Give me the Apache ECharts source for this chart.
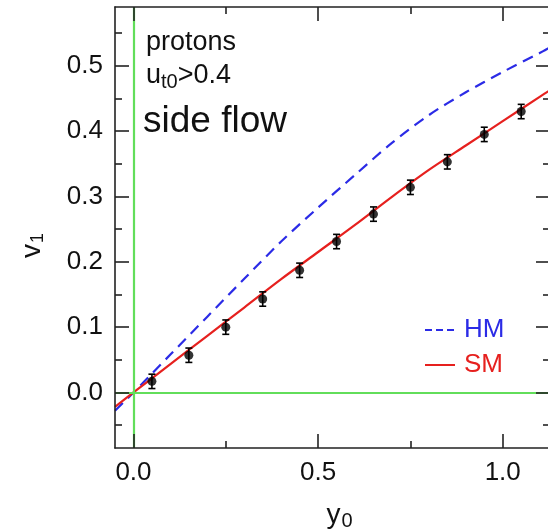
<!DOCTYPE html>
<html><head><meta charset="utf-8">
<script src="https://cdn.jsdelivr.net/npm/echarts@6/dist/echarts.min.js"></script>
<style>html,body{margin:0;padding:0;background:#fff}#c{width:548px;height:532px}</style>
</head><body><div id="c"></div>
<script>
// ---- data ----
const xTicksMajor = [0.0, 0.5, 1.0];
const xTicksMinor = [0.25, 0.75];
const yTicksMajor = [0.0, 0.1, 0.2, 0.3, 0.4, 0.5];
const yTicksMinor = [-0.05, 0.05, 0.15, 0.25, 0.35, 0.45, 0.55];

const dataX   = [0.05, 0.15, 0.25, 0.35, 0.45, 0.55, 0.65, 0.75, 0.85, 0.95, 1.05];
const dataV1  = [0.017, 0.057, 0.100, 0.143, 0.187, 0.231, 0.273, 0.314, 0.353, 0.395, 0.430];
const dataErr = [0.011, 0.011, 0.011, 0.011, 0.011, 0.011, 0.011, 0.011, 0.011, 0.011, 0.011];

const curveX = [-0.05, 0.0, 0.1, 0.2, 0.3, 0.4, 0.5, 0.6, 0.7, 0.8, 0.9, 1.0, 1.1, 1.128];
const hmV1   = [-0.028, 0.0, 0.058, 0.116, 0.174, 0.231, 0.283, 0.333, 0.382, 0.4245, 0.4595, 0.4905, 0.5195, 0.528];
const smV1   = [-0.022, 0.0, 0.0434, 0.0868, 0.130, 0.1735, 0.215, 0.2565, 0.2995, 0.3407, 0.378, 0.4152, 0.4525, 0.4627];

const seriesNames = ['HM', 'SM'];
const xName = 'y';
const xNameSub = '0';
const yName = 'v';
const yNameSub = '1';

// ---- styles ----
const FONT = 'Liberation Sans, Arial, Helvetica, sans-serif';
const BLUE = '#2b2be6';
const RED = '#e6201e';
const GREEN = '#62de5a';
const AX = '#222';
const XMIN = -0.05, XMAX = 1.128, YMIN = -0.085, YMAX = 0.59;
const gridRect = {left: 115, top: 7, right: -2, bottom: 84, outerBoundsMode: 'none', containLabel: false};

function xAx(gridIndex, pos, ticks, len, labels, line, extra) {
  return Object.assign({
    type: 'value', gridIndex, position: pos, min: XMIN, max: XMAX,
    axisLine: {show: line, onZero: false, lineStyle: {color: AX, width: 1.6}},
    axisTick: {show: true, inside: true, length: len, customValues: ticks, lineStyle: {color: AX, width: 1.6}},
    axisLabel: labels ? {show: true, customValues: ticks, formatter: v => v.toFixed(1), fontSize: 26, fontFamily: FONT, color: '#111', margin: 12}
                      : {show: false},
    splitLine: {show: false}, z: 10
  }, extra || {});
}
function yAx(gridIndex, pos, ticks, len, labels, line, extra) {
  return Object.assign({
    type: 'value', gridIndex, position: pos, min: YMIN, max: YMAX,
    axisLine: {show: line, onZero: false, lineStyle: {color: AX, width: 1.6}},
    axisTick: {show: true, inside: true, length: len, customValues: ticks, lineStyle: {color: AX, width: 1.6}},
    axisLabel: labels ? {show: true, customValues: ticks, formatter: v => v.toFixed(1), fontSize: 26, fontFamily: FONT, color: '#111', margin: 12}
                      : {show: false},
    splitLine: {show: false}, z: 10
  }, extra || {});
}

const chart = echarts.init(document.getElementById('c'), null, {renderer: 'canvas'});

const option = {
  animation: false,
  backgroundColor: '#fff',
  textStyle: {fontFamily: FONT},
  grid: [Object.assign({}, gridRect), Object.assign({}, gridRect)],
  xAxis: [
    xAx(0, 'bottom', xTicksMajor, 14, true, true, {
      name: '{a|' + xName + '}{b|' + xNameSub + '}', nameLocation: 'middle', nameGap: 51,
      nameTextStyle: {fontFamily: FONT, color: '#111', padding: [0, 0, 0, 14], rich: {
        a: {fontSize: 28, fontFamily: FONT, color: '#111'},
        b: {fontSize: 20, fontFamily: FONT, color: '#111', padding: [12, 0, 0, 1]}
      }}
    }),
    xAx(0, 'top', xTicksMajor, 14, false, true),
    xAx(1, 'bottom', xTicksMinor, 7, false, false),
    xAx(1, 'top', xTicksMinor, 7, false, false)
  ],
  yAxis: [
    yAx(0, 'left', yTicksMajor, 14, true, true, {
      name: '{a|' + yName + '}{b|' + yNameSub + '}', nameLocation: 'middle', nameGap: 68, nameRotate: 90,
      nameTextStyle: {fontFamily: FONT, color: '#111', padding: [0, 36, 0, 0], rich: {
        a: {fontSize: 28, fontFamily: FONT, color: '#111'},
        b: {fontSize: 18, fontFamily: FONT, color: '#111', padding: [12, 0, 0, 1]}
      }}
    }),
    yAx(0, 'right', yTicksMajor, 14, false, true),
    yAx(1, 'left', yTicksMinor, 7, false, false),
    yAx(1, 'right', yTicksMinor, 7, false, false)
  ],
  legend: {
    orient: 'vertical', left: 424, top: 317, padding: 0, itemWidth: 30, itemHeight: 14, itemGap: 9,
    selectedMode: false,
    itemStyle: {opacity: 0},
    textStyle: {fontSize: 26, fontFamily: FONT, padding: [0, 0, 0, 4]},
    data: [
      {name: seriesNames[0], textStyle: {color: BLUE}, lineStyle: {type: [7, 4]}, itemStyle: {opacity: 0}},
      {name: seriesNames[1], textStyle: {color: RED}, itemStyle: {opacity: 0}}
    ]
  },
  graphic: [
    {type: 'text', left: 146, top: 29, silent: true,
     style: {text: 'protons', font: '27px ' + FONT, fill: '#111'}},
    {type: 'text', left: 146, top: 62, silent: true,
     style: {text: '{a|u}{b|t0}{a|>0.4}', fill: '#111', rich: {
       a: {fontSize: 27, fontFamily: FONT, fill: '#111'},
       b: {fontSize: 20, fontFamily: FONT, fill: '#111', padding: [14, 0, 0, 0]}
     }}},
    {type: 'text', left: 143, top: 103, silent: true,
     style: {text: 'side flow', font: '37px ' + FONT, fill: '#111'}}
  ],
  series: [
    {
      name: 'axes0', type: 'line', xAxisIndex: 0, yAxisIndex: 0, data: [], z: 1, silent: true,
      markLine: {
        silent: true, symbol: ['none', 'none'], label: {show: false},
        lineStyle: {color: GREEN, width: 2.2, type: 'solid'},
        emphasis: {disabled: true},
        data: [{xAxis: 0}, {yAxis: 0}]
      }
    },
    {
      name: seriesNames[0], type: 'line', xAxisIndex: 0, yAxisIndex: 0,
      data: curveX.map((x, i) => [x, hmV1[i]]),
      smooth: 0.3, symbol: 'none', z: 3,
      lineStyle: {color: BLUE, width: 2.2, type: [11, 7]}, itemStyle: {color: BLUE}
    },
    {
      name: seriesNames[1], type: 'line', xAxisIndex: 0, yAxisIndex: 0,
      data: curveX.map((x, i) => [x, smV1[i]]),
      smooth: 0.3, symbol: 'none', z: 3,
      lineStyle: {color: RED, width: 2.2, type: 'solid'}, itemStyle: {color: RED}
    },
    {
      name: 'err', type: 'custom', xAxisIndex: 0, yAxisIndex: 0, z: 4, silent: true,
      data: dataX.map((x, i) => [x, dataV1[i] - dataErr[i], dataV1[i] + dataErr[i]]),
      renderItem: function (params, api) {
        const lo = api.coord([api.value(0), api.value(1)]);
        const hi = api.coord([api.value(0), api.value(2)]);
        const w = 3.5;
        const st = {stroke: '#000', lineWidth: 1.6};
        return {type: 'group', children: [
          {type: 'line', shape: {x1: lo[0], y1: lo[1], x2: hi[0], y2: hi[1]}, style: st},
          {type: 'line', shape: {x1: lo[0] - w, y1: lo[1], x2: lo[0] + w, y2: lo[1]}, style: st},
          {type: 'line', shape: {x1: hi[0] - w, y1: hi[1], x2: hi[0] + w, y2: hi[1]}, style: st}
        ]};
      }
    },
    {
      name: 'data', type: 'scatter', xAxisIndex: 0, yAxisIndex: 0, z: 5, silent: true,
      data: dataX.map((x, i) => [x, dataV1[i]]),
      symbol: 'circle', symbolSize: 9, itemStyle: {color: '#000'}
    }
  ]
};
chart.setOption(option);
</script>
</body></html>
